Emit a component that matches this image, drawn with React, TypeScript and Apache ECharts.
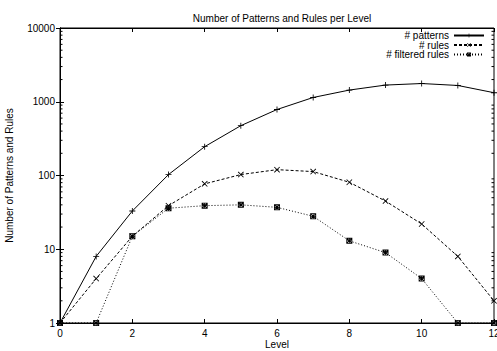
import React, { useEffect, useRef } from "react";
import * as echarts from "echarts";

const levels = [0, 1, 2, 3, 4, 5, 6, 7, 8, 9, 10, 11, 12];
const patterns = [1, 8, 33, 103, 246, 474, 785, 1143, 1440, 1683, 1767, 1662, 1326];
const rules = [1, 4, 15, 39, 77, 103, 120, 113, 81, 45, 22, 8, 2];
const filteredRules = [1, 1, 15, 36, 39, 40, 37, 28, 13, 9, 4, 1, 1];
const yTickLabels = ["1", "10", "100", "1000", "10000"];
const minorTickValues: number[] = [];
[1, 10, 100, 1000].forEach((d) => {
  for (let k = 2; k <= 9; k++) minorTickValues.push(d * k);
});

const FONT = "'Liberation Sans', Arial, Helvetica, sans-serif";

const plusPath = "path://M0,4.3H10V5.7H0Z M4.3,0H5.7V10H4.3Z";
const crossPath = "path://M0,1L1,0L10,9L9,10Z M9,0L10,1L1,10L0,9Z";
const starPath =
  "path://M0,1L1,0L10,9L9,10Z M9,0L10,1L1,10L0,9Z M0,4.3H10V5.7H0Z M4.3,0H5.7V10H4.3Z M0,0H10V1.4H0Z M0,8.6H10V10H0Z M0,0H1.4V10H0Z M8.6,0H10V10H8.6Z";

function pairs(vals: number[]) {
  return levels.map((x, i) => [x, vals[i]]);
}

export default function App() {
  const ref = useRef<HTMLDivElement>(null);
  useEffect(() => {
    if (!ref.current) return;
    const chart = echarts.init(ref.current, undefined, { renderer: "svg" });
    const text = { color: "#000", fontFamily: FONT, fontSize: 10 };
    const legendBase = (name: string, top: number) => ({
      data: [name],
      right: 12,
      top,
      orient: "vertical",
      align: "right",
      padding: 0,
      itemWidth: 30,
      itemHeight: 5,
      textStyle: { ...text, lineHeight: 9, height: 9 },
      selectedMode: false,
    });
    chart.setOption({
      animation: false,
      backgroundColor: "#fff",
      textStyle: { fontFamily: FONT },
      title: {
        text: "Number of Patterns and Rules per Level",
        left: 277,
        textAlign: "center",
        top: 8,
        textStyle: { ...text, fontWeight: "normal" },
      },
      legend: [
        legendBase("# patterns", 30.5),
        legendBase("# rules", 40),
        legendBase("# filtered rules", 49.5),
      ],
      grid: {
        left: 60,
        right: 3,
        top: 28,
        bottom: 28,
        outerBoundsMode: "none",
        containLabel: false,
        show: true,
        borderColor: "#000",
        borderWidth: 1,
        backgroundColor: "transparent",
      },
      xAxis: [
        {
          type: "value",
          min: 0,
          max: 12,
          interval: 2,
          name: "Level",
          nameLocation: "middle",
          nameGap: 16,
          nameMoveOverlap: false,
          nameTextStyle: { ...text, lineHeight: 10 },
          axisLine: { show: true, lineStyle: { color: "#000", width: 1 } },
          axisTick: { show: true, inside: true, length: 4, lineStyle: { color: "#000" } },
          axisLabel: { ...text, margin: 5 },
          splitLine: { show: false },
        },
        {
          type: "value",
          min: 0,
          max: 12,
          interval: 2,
          position: "top",
          axisLine: { show: true, lineStyle: { color: "#000", width: 1 } },
          axisTick: { show: true, inside: true, length: 4, lineStyle: { color: "#000" } },
          axisLabel: { show: false },
          splitLine: { show: false },
        },
      ],
      yAxis: [
        {
          type: "log",
          logBase: 10,
          min: 1,
          max: 10000,
          name: "Number of Patterns and Rules",
          nameLocation: "middle",
          nameGap: 46,
          nameMoveOverlap: false,
          nameTextStyle: { ...text },
          axisLine: { show: true, lineStyle: { color: "#000", width: 1 } },
          axisTick: { show: true, inside: true, length: 4, lineStyle: { color: "#000" } },
          axisLabel: {
            ...text,
            margin: 5,
            formatter: (v: number) => {
              const s = String(Math.round(v));
              return yTickLabels.includes(s) ? s : "";
            },
          },
          splitLine: { show: false },
        },
        {
          type: "log",
          logBase: 10,
          min: 1,
          max: 10000,
          position: "right",
          axisLine: { show: true, lineStyle: { color: "#000", width: 1 } },
          axisTick: { show: true, inside: true, length: 4, lineStyle: { color: "#000" } },
          axisLabel: { show: false },
          splitLine: { show: false },
        },
      ],
      series: [
        {
          name: "# patterns",
          type: "line",
          data: pairs(patterns),
          symbol: plusPath,
          symbolSize: 6,
          showAllSymbol: true,
          lineStyle: { color: "#000", width: 1, type: "solid" },
          itemStyle: { color: "#000" },
          clip: false,
        },
        {
          name: "# rules",
          type: "line",
          data: pairs(rules),
          symbol: crossPath,
          symbolSize: 6,
          lineStyle: { color: "#000", width: 1, type: [3, 2] },
          itemStyle: { color: "#000" },
          clip: false,
        },
        {
          name: "# filtered rules",
          type: "line",
          data: pairs(filteredRules),
          symbol: starPath,
          symbolSize: 6,
          lineStyle: { color: "#000", width: 1, type: [1, 2] },
          itemStyle: { color: "#000" },
          clip: false,
        },
        {
          name: "minorTicks",
          type: "custom",
          silent: true,
          clip: false,
          data: minorTickValues.map((v) => [0, v]),
          encode: { x: 0, y: 1 },
          renderItem: (params: any, api: any) => {
            const v = api.value(1);
            const p0 = api.coord([0, v]);
            const p1 = api.coord([12, v]);
            const st = { stroke: "#000", lineWidth: 1 };
            return {
              type: "group",
              children: [
                { type: "line", shape: { x1: p0[0], y1: p0[1], x2: p0[0] + 2.5, y2: p0[1] }, style: st },
                { type: "line", shape: { x1: p1[0], y1: p1[1], x2: p1[0] - 2.5, y2: p1[1] }, style: st },
              ],
            };
          },
        },
      ],
    });
    return () => chart.dispose();
  }, []);
  return (
    <div
      ref={ref}
      style={{ position: "absolute", left: 0, top: 0, width: 497, height: 351, background: "#fff" }}
    />
  );
}
